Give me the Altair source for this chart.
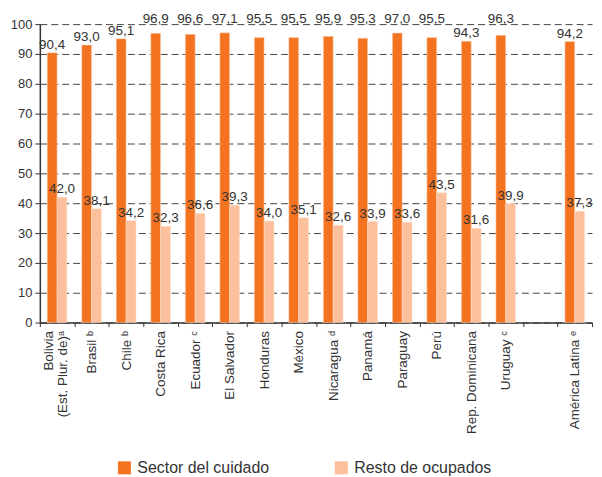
import altair as alt
import pandas as pd

categories = ["Bolivia|(Est. Plur. de)ᵃ", "Brasil ᵇ", "Chile ᵇ", "Costa Rica", "Ecuador ᶜ",
              "El Salvador", "Honduras", "México", "Nicaragua ᵈ", "Panamá", "Paraguay",
              "Perú", "Rep. Dominicana", "Uruguay ᶜ", "América Latina ᵉ"]
cuidado = [90.4, 93.0, 95.1, 96.9, 96.6, 97.1, 95.5, 95.5, 95.9, 95.3, 97.0, 95.5, 94.3, 96.3, 94.2]
resto = [42.0, 38.1, 34.2, 32.3, 36.6, 39.3, 34.0, 35.1, 32.6, 33.9, 33.6, 43.5, 31.6, 39.9, 37.3]
series = ["Sector del cuidado", "Resto de ocupados"]
colors = ["#F37321", "#FCC09C"]
y_ticks = list(range(0, 101, 10))

domain = categories[:14] + [" "] + categories[14:]

rows = []
for c, a, b in zip(categories, cuidado, resto):
    rows.append({"pais": c, "serie": series[0], "valor": a})
    rows.append({"pais": c, "serie": series[1], "valor": b})
df = pd.DataFrame(rows)

FONT = "Liberation Sans"
TXT = "#333333"

x = alt.X("pais:N",
          scale=alt.Scale(domain=domain, paddingInner=0, paddingOuter=0),
          axis=alt.Axis(title=None, labelAngle=-90, tickBand="extent",
                        labelExpr="split(datum.label, '|')",
                        labelOffset={"condition": {"test": f"datum.value == '{categories[0]}'", "value": -9},
                                     "value": 0},
                        labelFont=FONT, labelFontSize=13.5, labelColor=TXT,
                        labelPadding=4, labelLineHeight=14,
                        tickSize=4, tickColor="#333", domainColor="#333",
                        domainWidth=1.5, labelBaseline="middle", labelAlign="right"))
xo = alt.XOffset("serie:N", scale=alt.Scale(domain=series, paddingInner=0, paddingOuter=0.75))
yscale = alt.Scale(domain=[0, 100], nice=False)
yaxis = alt.Axis(title=None, values=y_ticks, grid=True, gridDash=[7, 4],
                 gridColor="#444", gridWidth=1, labelOverlap=False,
                 labelFont=FONT, labelFontSize=13, labelColor=TXT,
                 tickSize=5, tickColor="#333", domainColor="#333",
                 domainWidth=1.5, labelPadding=3)

bars = alt.Chart(df).mark_bar(stroke="#FDE0CC", strokeWidth=0.5).encode(
    x=x,
    xOffset=xo,
    y=alt.Y("valor:Q", scale=yscale, axis=yaxis),
    color=alt.Color("serie:N", scale=alt.Scale(domain=series, range=colors),
                    legend=alt.Legend(title=None, orient="none", direction="horizontal",
                                      legendX=77, legendY=438, symbolType="square",
                                      symbolSize=170, symbolStrokeWidth=0,
                                      labelFont=FONT, labelFontSize=16, labelColor=TXT,
                                      columnPadding=64, labelOffset=5)),
)

labels = alt.Chart(df).transform_calculate(
    label="replace(format(datum.valor, '.1f'), '.', ',')",
    ly="datum.serie == 'Sector del cuidado' && datum.valor >= 95.2 ? 100.4 : datum.valor + 1.3",
).mark_text(baseline="alphabetic", fontSize=13.5, font=FONT, color=TXT).encode(
    x=x,
    xOffset=xo,
    y=alt.Y("ly:Q", scale=yscale, axis=yaxis),
    text="label:N",
)

chart = alt.layer(bars, labels).properties(
    width=555, height=300,
    autosize=alt.AutoSizeParams(type="none"),
    padding={"left": 32, "top": 15, "right": 2, "bottom": 154},
).configure_view(stroke=None)

chart.save("out.html", embed_options={"renderer": "svg", "actions": False})
